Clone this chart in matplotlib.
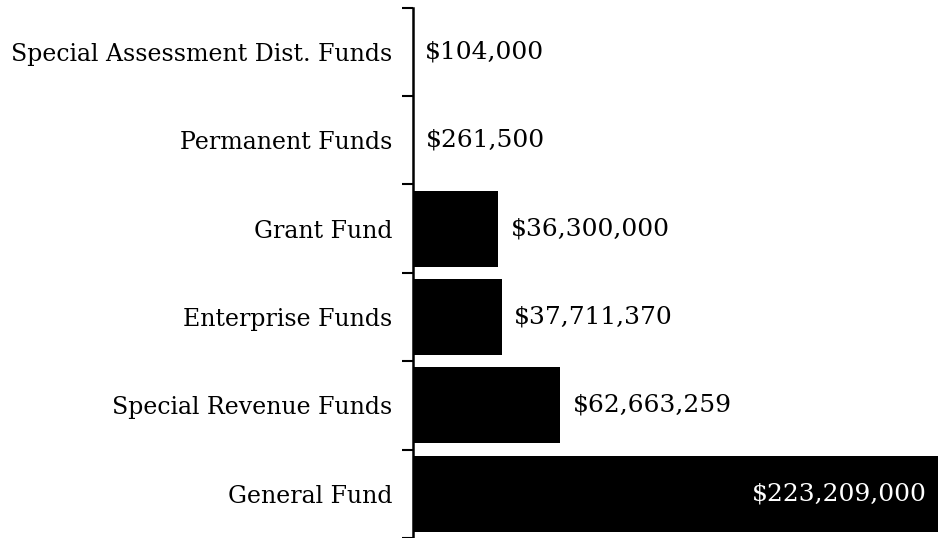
import matplotlib
matplotlib.use('Agg')
import matplotlib.pyplot as plt
from matplotlib.ticker import FixedLocator

categories = ['General Fund', 'Special Revenue Funds', 'Enterprise Funds',
              'Grant Fund', 'Permanent Funds', 'Special Assessment Dist. Funds']
values = [223209000, 62663259, 37711370, 36300000, 261500, 104000]
labels = ['$223,209,000', '$62,663,259', '$37,711,370',
          '$36,300,000', '$261,500', '$104,000']

plt.rcParams['font.family'] = ['DejaVu Serif']

fig = plt.figure(figsize=(9.38, 5.38), dpi=100)
ax = fig.add_axes([413 / 938, 0, 1 - 413 / 938, 530.4 / 538])

y = list(range(len(categories)))
ax.barh(y, values, height=0.86, color='black')
ax.set_xlim(0, max(values))
ax.set_ylim(-0.5, len(categories) - 0.5)

ax.set_yticks(y)
ax.set_yticklabels(categories, fontsize=17)
ax.yaxis.set_minor_locator(FixedLocator([i + 0.5 for i in range(-1, len(categories))]))
ax.tick_params(axis='y', which='major', length=0, pad=15)
ax.tick_params(axis='y', which='minor', length=8, width=1.5)
ax.set_xticks([])

for s in ['top', 'right', 'bottom']:
    ax.spines[s].set_visible(False)
ax.spines['left'].set_linewidth(1.8)

for i, (v, t) in enumerate(zip(values, labels)):
    if v > 0.5 * max(values):
        ax.annotate(t, (v, i), xytext=(-11, 0), textcoords='offset pixels',
                    ha='right', va='center', color='white', fontsize=18)
    else:
        ax.annotate(t, (v, i), xytext=(12, 0), textcoords='offset pixels',
                    ha='left', va='center', color='black', fontsize=18)

fig.savefig('out.png', dpi=100)
